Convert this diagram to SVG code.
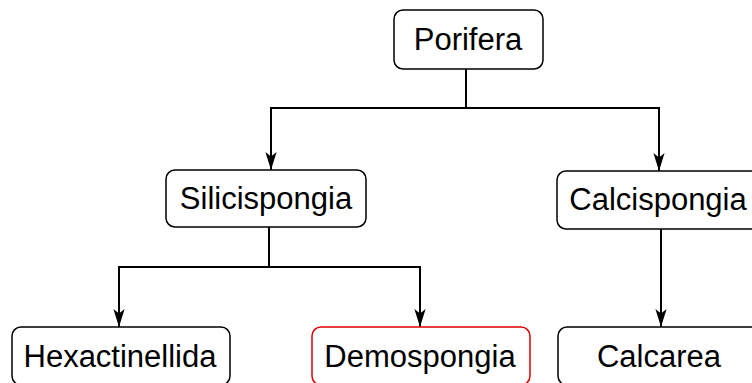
<svg xmlns="http://www.w3.org/2000/svg" width="752" height="383" viewBox="0 0 752 383">
<defs>
<style>
.box{fill:#fff;stroke:#000;stroke-width:1.5}
.red{stroke:#e00000}
.lbl{font-family:"Liberation Sans",Arial,sans-serif;font-size:31px;fill:#000;text-anchor:middle}
.edge{fill:none;stroke:#000;stroke-width:2}
</style>
<marker id="ah" viewBox="0 0 16 10" refX="16" refY="5" markerWidth="9" markerHeight="5.6" markerUnits="strokeWidth" orient="auto">
<path d="M0,0 L16,5 L0,10 L4,5 Z" fill="#000"/>
</marker>
</defs>
<g id="connectors">
<path class="edge" d="M466,69 V108 H271 V170" marker-end="url(#ah)"/>
<path class="edge" d="M466,108 H659 V171" marker-end="url(#ah)"/>
<path class="edge" d="M269,227 V267 H119 V327" marker-end="url(#ah)"/>
<path class="edge" d="M269,267 H420 V327" marker-end="url(#ah)"/>
<path class="edge" d="M661,229 V327" marker-end="url(#ah)"/>
</g>
<g id="porifera"><rect class="box" x="394" y="10" width="149" height="59" rx="9"/><text class="lbl" x="468" y="50">Porifera</text></g>
<g id="silicispongia"><rect class="box" x="166" y="170" width="200" height="57" rx="9"/><text class="lbl" x="266" y="209">Silicispongia</text></g>
<g id="calcispongia"><rect class="box" x="557" y="171" width="206" height="58" rx="9"/><text class="lbl" x="658" y="210">Calcispongia</text></g>
<g id="hexactinellida"><rect class="box" x="12" y="327" width="218" height="58" rx="9"/><text class="lbl" x="120" y="367">Hexactinellida</text></g>
<g id="demospongia"><rect class="box red" x="312" y="327" width="218" height="58" rx="9"/><text class="lbl" x="420" y="367">Demospongia</text></g>
<g id="calcarea"><rect class="box" x="558" y="327" width="205" height="58" rx="9"/><text class="lbl" x="659" y="367">Calcarea</text></g>
</svg>
